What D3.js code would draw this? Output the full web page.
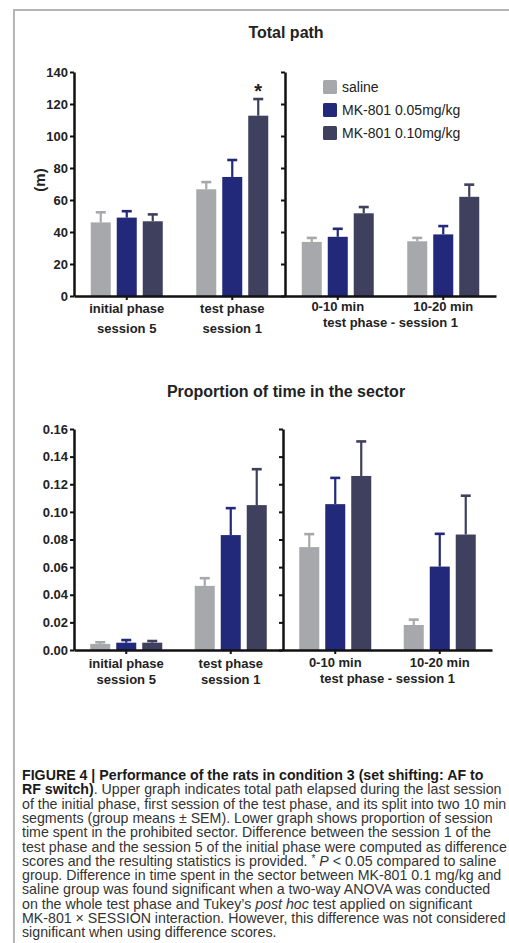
<!DOCTYPE html>
<html>
<head>
<meta charset="utf-8">
<script src="https://cdn.jsdelivr.net/npm/d3@7"></script>
<style>
  body { margin: 0; background: #fff; }
  svg { display: block; font-family: "Liberation Sans", Arial, sans-serif; }
</style>
</head>
<body>
<svg id="fig" width="509" height="943"></svg>
<script>
// groups and series
const groups = ['initial', 'test', '0-10', '10-20'];
const series = ['saline', 'MK-801 0.05mg/kg', 'MK-801 0.10mg/kg'];
const colors = ['#a6a8ab', '#22287a', '#3f3f5e'];

// Total path (m): group means and SEM, one row per group
const pathMeans = [[46, 49, 46.7], [66.7, 74.4, 112.7], [33.8, 37, 51.7], [34.2, 38.5, 62]];
const pathSem = [[6.3, 4, 4.3], [4.5, 10.6, 10.4], [2.5, 5, 3.9], [2.1, 5.2, 7.6]];
const pathTicks = [0, 20, 40, 60, 80, 100, 120, 140];

// Proportion of time in the sector
const propMeans = [[0.0044, 0.0053, 0.0053], [0.0464, 0.0832, 0.1049], [0.0745, 0.1056, 0.126], [0.0181, 0.0604, 0.0836]];
const propSem = [[0.0012, 0.0019, 0.0012], [0.0056, 0.0195, 0.026], [0.0094, 0.019, 0.025], [0.0039, 0.0237, 0.0281]];
const propTicks = [0, 0.02, 0.04, 0.06, 0.08, 0.10, 0.12, 0.14, 0.16];

const leftLabels = [['initial phase', 'session 5'], ['test phase', 'session 1']];
const rightLabels = ['0-10 min', '10-20 min'];
const rightSubLabel = 'test phase - session 1';

const captionLines = [
    [['FIGURE 4 | Performance of the rats in condition 3 (set shifting: AF to', 'b']],
    [['RF switch)', 'b'], ['. Upper graph indicates total path elapsed during the last session', '']],
    [['of the initial phase, first session of the test phase, and its split into two 10 min', '']],
    [['segments (group means \u00b1 SEM). Lower graph shows proportion of session', '']],
    [['time spent in the prohibited sector. Difference between the session 1 of the', '']],
    [['test phase and the session 5 of the initial phase were computed as difference', '']],
    [['scores and the resulting statistics is provided. ', ''], ['*', 'sup'], [' ', ''], ['P', 'i'], [' < 0.05 compared to saline', '']],
    [['group. Difference in time spent in the sector between MK-801 0.1 mg/kg and', '']],
    [['saline group was found significant when a two-way ANOVA was conducted', '']],
    [['on the whole test phase and Tukey\u2019s ', ''], ['post hoc', 'i'], [' test applied on significant', '']],
    [['MK-801 \u00d7 SESSION interaction. However, this difference was not considered', '']],
    [['significant when using difference scores.', '']]
];

const svg = d3.select('#fig');

// figure frame (left and top edges only are visible)
svg.append('path')
    .attr('d', 'M14,943V10H509')
    .attr('fill', 'none')
    .attr('stroke', '#b5b5b5')
    .attr('stroke-width', 2);

function drawPanel(cfg) {
    const x = d3.scaleBand().domain(groups).range([cfg.left, cfg.right]);
    const inner = d3.scaleBand().domain(series).range([-36, 36]).paddingInner(0.23);
    const y = d3.scaleLinear().domain(cfg.domain).range([cfg.bottom, cfg.top]);
    const breakX = x('0-10');

    const g = svg.append('g');

    // title
    g.append('text')
        .attr('x', 286)
        .attr('y', cfg.titleY)
        .attr('text-anchor', 'middle')
        .style('font-size', '16px')
        .style('font-weight', 'bold')
        .attr('fill', '#222')
        .text(cfg.title);

    // bars + upper error bars
    cfg.means.forEach((row, gi) => {
        row.forEach((v, si) => {
            const bx = x(groups[gi]) + x.bandwidth() / 2 + inner(series[si]);
            const cx = bx + inner.bandwidth() / 2;
            const top = y(v + cfg.sems[gi][si]);
            g.append('line')
                .attr('x1', cx).attr('x2', cx)
                .attr('y1', y(v)).attr('y2', top)
                .attr('stroke', colors[si])
                .attr('stroke-width', 2.2);
            g.append('line')
                .attr('x1', cx - 5).attr('x2', cx + 5)
                .attr('y1', top).attr('y2', top)
                .attr('stroke', colors[si])
                .attr('stroke-width', 2.6);
            g.append('rect')
                .attr('x', bx)
                .attr('y', y(v))
                .attr('width', inner.bandwidth())
                .attr('height', y(0) - y(v))
                .attr('fill', colors[si]);
            if (cfg.star && cfg.star[0] === gi && cfg.star[1] === si) {
                g.append('text')
                    .attr('x', cx)
                    .attr('y', top - 1)
                    .attr('text-anchor', 'middle')
                    .style('font-size', '20px')
                    .style('font-weight', 'bold')
                    .attr('fill', '#222')
                    .text('*');
            }
        });
    });

    // y axis with labels
    const yAxis = g.append('g')
        .attr('transform', `translate(${cfg.left},0)`)
        .call(d3.axisLeft(y).tickValues(cfg.ticks).tickFormat(cfg.fmt).tickSize(4).tickSizeOuter(0).tickPadding(2));
    yAxis.select('.domain').attr('stroke', '#111').attr('stroke-width', 2.5);
    yAxis.selectAll('.tick line').attr('stroke', '#111').attr('stroke-width', 2);
    yAxis.selectAll('.tick text')
        .attr('fill', '#222')
        .style('font-size', '13px')
        .style('font-weight', 'bold')
        .style('font-family', '"Liberation Sans", Arial, sans-serif');

    // second y axis at the break, no labels
    const yAxis2 = g.append('g')
        .attr('transform', `translate(${breakX},0)`)
        .call(d3.axisLeft(y).tickValues(cfg.ticks).tickFormat('').tickSize(4).tickSizeOuter(0));
    yAxis2.select('.domain').attr('stroke', '#111').attr('stroke-width', 2.5);
    yAxis2.selectAll('.tick line').attr('stroke', '#111').attr('stroke-width', 2);

    // x axis
    const xAxis = g.append('g')
        .attr('transform', `translate(0,${cfg.bottom})`)
        .call(d3.axisBottom(x).tickFormat('').tickSize(4).tickSizeOuter(0));
    xAxis.select('.domain').attr('stroke', '#111').attr('stroke-width', 2.5);
    xAxis.selectAll('.tick line').attr('stroke', '#111').attr('stroke-width', 2);

    const lab = (tx, ty, s) => g.append('text')
        .attr('x', tx).attr('y', ty)
        .attr('text-anchor', 'middle')
        .style('font-size', '13px')
        .style('font-weight', 'bold')
        .attr('fill', '#222')
        .text(s);

    leftLabels.forEach((pair, i) => {
        const cx = x(groups[i]) + x.bandwidth() / 2;
        lab(cx, cfg.bottom + cfg.leftLab[0], pair[0]);
        lab(cx, cfg.bottom + cfg.leftLab[1], pair[1]);
    });
    rightLabels.forEach((s, i) => {
        lab(x(groups[i + 2]) + x.bandwidth() / 2, cfg.bottom + cfg.rightLab[0], s);
    });
    lab((x('0-10') + x('10-20') + x.bandwidth()) / 2, cfg.bottom + cfg.rightLab[1], rightSubLabel);

    if (cfg.ylabel) {
        g.append('text')
            .attr('transform', `translate(45,${(cfg.top + cfg.bottom) / 2 - 4}) rotate(-90)`)
            .attr('text-anchor', 'middle')
            .style('font-size', '15px')
            .style('font-weight', 'bold')
            .attr('fill', '#222')
            .text(cfg.ylabel);
    }
    return { x, y };
}

drawPanel({
    title: 'Total path', titleY: 38,
    left: 74, right: 496, top: 72, bottom: 296,
    domain: [0, 140], ticks: pathTicks, fmt: d3.format('d'),
    means: pathMeans, sems: pathSem, star: [1, 2],
    leftLab: [17, 37], rightLab: [15, 31], ylabel: '(m)'
});

drawPanel({
    title: 'Proportion of time in the sector', titleY: 397,
    left: 74, right: 492, top: 429, bottom: 650,
    domain: [0, 0.16], ticks: propTicks, fmt: d3.format('.2f'),
    means: propMeans, sems: propSem,
    leftLab: [18, 34], rightLab: [17, 33]
});

// legend
const legend = svg.append('g').attr('transform', 'translate(323,80)');
series.forEach((s, i) => {
    legend.append('rect')
        .attr('x', 0).attr('y', i * 23)
        .attr('width', 14).attr('height', 14)
        .attr('rx', 1.5)
        .attr('fill', colors[i]);
    legend.append('text')
        .attr('x', 19).attr('y', i * 23 + 12)
        .style('font-size', '14px')
        .attr('fill', '#222')
        .text(s);
});

// caption
const cap = svg.append('text')
    .attr('x', 22)
    .style('font-size', '14.2px')
    .attr('fill', '#333');
captionLines.forEach((segs, i) => {
    segs.forEach((seg, j) => {
        const t = cap.append('tspan').text(seg[0]);
        if (j === 0) t.attr('x', 22).attr('y', 780 + i * 14.3);
        if (seg[1] === 'b') t.style('font-weight', 'bold').attr('fill', '#1a1a1a');
        if (seg[1] === 'i') t.style('font-style', 'italic');
        if (seg[1] === 'sup') t.style('font-size', '10px').attr('dy', -4);
        if (j > 0 && segs[j - 1][1] === 'sup') t.attr('dy', 4);
    });
});
</script>
</body>
</html>
